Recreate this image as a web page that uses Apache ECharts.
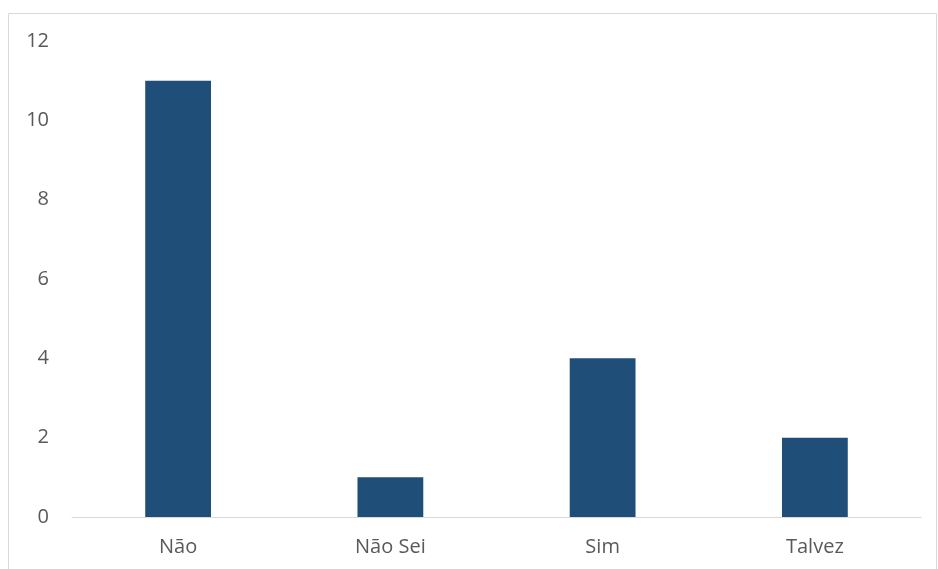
<!DOCTYPE html>
<html>
<head>
<meta charset="utf-8">
<script src="https://cdn.jsdelivr.net/npm/echarts@6/dist/echarts.min.js"></script>
<style>
html,body{margin:0;padding:0;background:#fff;}
#c{width:938px;height:569px;}
</style>
</head>
<body>
<div id="c"></div>
<script>
const categories = ['Não', 'Não Sei', 'Sim', 'Talvez'];
const values = [11, 1, 4, 2];
const yTicks = [0, 2, 4, 6, 8, 10, 12];

const chart = echarts.init(document.getElementById('c'), null, {renderer: 'canvas'});
chart.setOption({
  animation: false,
  backgroundColor: '#ffffff',
  graphic: [{
    type: 'rect',
    shape: {x: 8.5, y: 13.5, width: 928, height: 600},
    style: {fill: 'none', stroke: '#d9d9d9', lineWidth: 1},
    silent: true
  }],
  grid: {left: 72, right: 17, top: 41, bottom: 52, containLabel: false},
  xAxis: {
    type: 'category',
    data: categories,
    axisLine: {show: true, lineStyle: {color: '#d9d9d9', width: 1}},
    axisTick: {show: false},
    axisLabel: {color: '#595959', fontSize: 20, fontFamily: 'Open Sans', margin: 20}
  },
  yAxis: {
    type: 'value',
    min: yTicks[0],
    max: yTicks[yTicks.length - 1],
    interval: 2,
    splitLine: {show: false},
    axisLine: {show: false},
    axisTick: {show: false},
    axisLabel: {color: '#595959', fontSize: 20, fontFamily: 'Open Sans', margin: 23}
  },
  series: [{
    type: 'bar',
    data: values,
    barWidth: '31%',
    itemStyle: {color: '#1F4E79'}
  }]
});
</script>
</body>
</html>
